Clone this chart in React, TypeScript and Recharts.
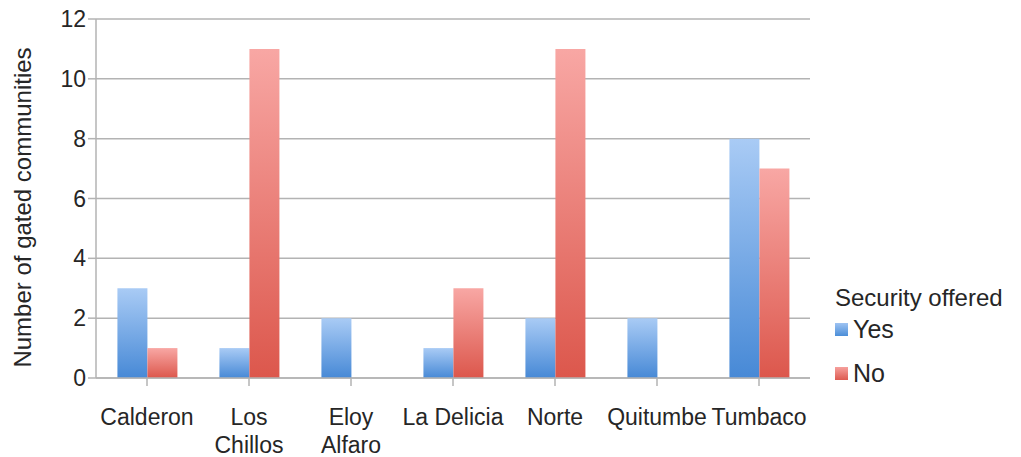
import { BarChart, Bar, XAxis, YAxis, CartesianGrid, Legend } from "recharts"

const districts = ["Calderon", "Los Chillos", "Eloy Alfaro", "La Delicia", "Norte", "Quitumbe", "Tumbaco"]
const securityYes = [3, 1, 2, 1, 2, 2, 8]
const securityNo = [1, 11, 0, 3, 11, 0, 7]
const yTicks = [0, 2, 4, 6, 8, 10, 12]

const data = districts.map((name, i) => ({ name, yes: securityYes[i], no: securityNo[i] }))

const FONT = "'Liberation Sans', Arial, Helvetica, sans-serif"
const GRID = "#b3b3b3"
const TEXT = "#262626"
const TICK_FONT = `23px ${FONT}`

let measureCtx: CanvasRenderingContext2D | null = null
function textWidth(s: string) {
  if (!measureCtx) measureCtx = document.createElement("canvas").getContext("2d")
  if (!measureCtx) return s.length * 12
  measureCtx.font = TICK_FONT
  return measureCtx.measureText(s).width
}

// split a label into lines that fit the category band
function wrapLabel(label: string, maxWidth: number) {
  const words = label.split(" ")
  const lines: string[] = []
  let cur = ""
  for (const w of words) {
    const next = cur ? `${cur} ${w}` : w
    if (cur && textWidth(next) > maxWidth) {
      lines.push(cur)
      cur = w
    } else {
      cur = next
    }
  }
  if (cur) lines.push(cur)
  return lines
}

function DistrictTick(props: any) {
  const { x, y, payload } = props
  const lines = wrapLabel(String(payload.value), 104)
  return (
    <text x={x} y={y + 37} textAnchor="middle" fontSize={23} fontFamily={FONT} fill={TEXT}>
      {lines.map((ln, i) => (
        <tspan key={i} x={x} dy={i === 0 ? 0 : 28}>
          {ln}
        </tspan>
      ))}
    </text>
  )
}

function AxisTitle(props: any) {
  const { viewBox } = props
  const cx = 31
  const cy = viewBox.y + viewBox.height / 2 + 9
  return (
    <text
      x={cx}
      y={cy}
      transform={`rotate(-90 ${cx} ${cy})`}
      textAnchor="middle"
      fontSize={24}
      fontFamily={FONT}
      fill={TEXT}
    >
      Number of gated communities
    </text>
  )
}

function LegendBox() {
  const items = [
    { label: "Yes", top: "#9ec3f2", bottom: "#4b8ed8" },
    { label: "No", top: "#f6a09c", bottom: "#dd5a50" },
  ]
  return (
    <div style={{ fontFamily: FONT, color: TEXT, textAlign: "left" }}>
      <div style={{ fontSize: 24, lineHeight: "28px", whiteSpace: "nowrap" }}>Security offered</div>
      {items.map((it, i) => (
        <div key={it.label} style={{ display: "flex", alignItems: "center", marginTop: i === 0 ? 2 : 14 }}>
          <svg width={13} height={13} style={{ marginRight: 5 }}>
            <defs>
              <linearGradient id={`lg${i}`} x1="0" y1="0" x2="0" y2="1">
                <stop offset="0%" stopColor={it.top} />
                <stop offset="100%" stopColor={it.bottom} />
              </linearGradient>
            </defs>
            <rect width={13} height={13} fill={`url(#lg${i})`} />
          </svg>
          <span style={{ fontSize: 25, lineHeight: "30px" }}>{it.label}</span>
        </div>
      ))}
    </div>
  )
}

export default function App() {
  return (
    <div style={{ position: "absolute", left: 0, top: 0, width: 1021, height: 457, background: "#fff" }}>
      <BarChart
        width={1021}
        height={457}
        data={data}
        margin={{ top: 19, right: 21, bottom: 0, left: 0 }}
        barCategoryGap="21%"
        barGap={0}
      >
        <defs>
          <linearGradient id="gradYes" x1="0" y1="0" x2="0" y2="1">
            <stop offset="0%" stopColor="#a9cbf5" />
            <stop offset="100%" stopColor="#4789d6" />
          </linearGradient>
          <linearGradient id="gradNo" x1="0" y1="0" x2="0" y2="1">
            <stop offset="0%" stopColor="#f8a7a4" />
            <stop offset="100%" stopColor="#dc574c" />
          </linearGradient>
        </defs>
        <CartesianGrid vertical={false} stroke={GRID} strokeWidth={1.5} />
        <XAxis
          dataKey="name"
          interval={0}
          stroke={GRID}
          strokeWidth={1.5}
          tickSize={8}
          tickLine={{ stroke: GRID, strokeWidth: 1.5 }}
          tick={<DistrictTick />}
          height={79}
        />
        <YAxis
          domain={[0, 12]}
          ticks={yTicks}
          width={96}
          stroke={GRID}
          strokeWidth={1.5}
          tickSize={8}
          tick={{ fontSize: 23, fontFamily: FONT, fill: TEXT }}
          label={<AxisTitle />}
        />
        <Legend
          layout="vertical"
          align="right"
          verticalAlign="middle"
          content={<LegendBox />}
          wrapperStyle={{ left: 835, top: 284, width: 190 }}
        />
        <Bar dataKey="yes" name="Yes" fill="url(#gradYes)" isAnimationActive={false} />
        <Bar dataKey="no" name="No" fill="url(#gradNo)" isAnimationActive={false} />
      </BarChart>
    </div>
  )
}
